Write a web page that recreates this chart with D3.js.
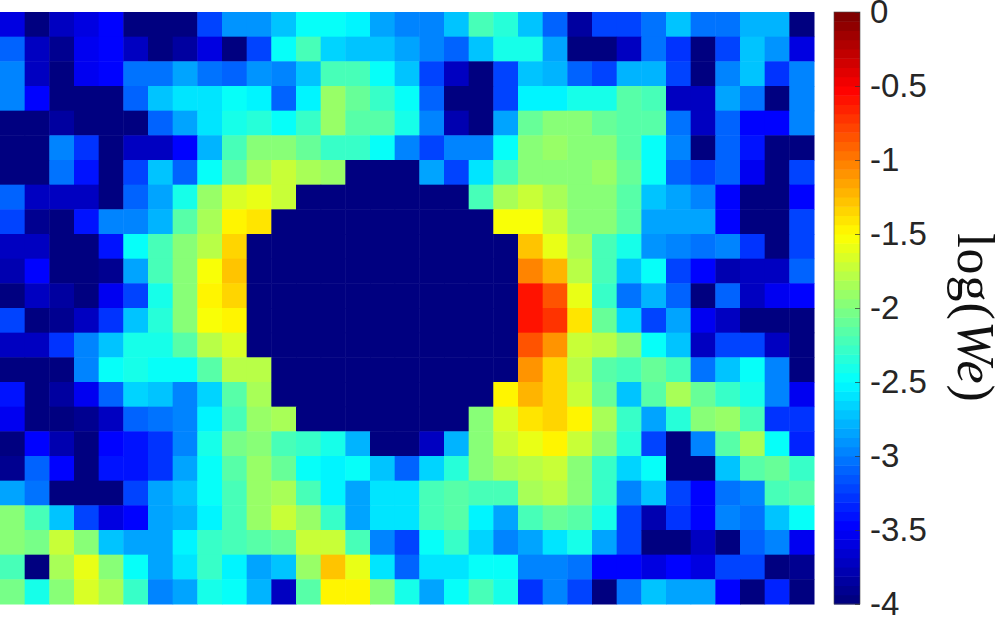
<!DOCTYPE html>
<html>
<head>
<meta charset="utf-8">
<script src="https://cdn.jsdelivr.net/npm/d3@7"></script>
<style>
  html, body { margin: 0; padding: 0; background: #fff; }
  svg { display: block; }
</style>
</head>
<body>
<div id="chart"></div>
<script>
"use strict";
// log(We) per cell, top row first
const logWe = [
  [-3.6,-3.95,-3.7,-3.6,-3.45,-4,-4,-4,-3.25,-2.9,-2.9,-2.7,-2.45,-2.45,-2.55,-2.85,-3,-3,-2.75,-2.25,-2.35,-2.72,-3.1,-3.85,-3.25,-3.25,-3.05,-2.75,-3.05,-3.05,-2.8,-2.8,-4],
  [-3.1,-3.7,-3.9,-3.55,-3.5,-3.7,-4,-3.85,-3.6,-3.95,-3.25,-2.5,-2.25,-2.65,-2.7,-2.7,-2.85,-3,-3.1,-2.75,-2.38,-2.38,-2.85,-4,-4,-3.7,-3.05,-3.3,-4,-3.2,-2.7,-2.9,-3.6],
  [-2.95,-3.7,-4,-3.55,-3.5,-3.05,-3.05,-2.85,-3.05,-3.1,-2.9,-3,-2.7,-2.25,-2.25,-2.5,-2.7,-3.2,-3.75,-3.95,-3.2,-2.75,-2.8,-3.1,-3.25,-2.78,-2.78,-3.25,-3.95,-2.95,-2.75,-3.3,-3],
  [-2.95,-3.5,-4,-4,-4,-3.1,-2.72,-2.6,-2.6,-2.5,-2.55,-3.1,-2.55,-1.93,-2.08,-2.3,-2.5,-3.1,-4,-4,-3.25,-2.55,-2.55,-2.38,-2.38,-2.18,-2.25,-3.7,-3.75,-2.85,-3.05,-4,-3],
  [-4,-4,-3.85,-4,-4,-4,-3.1,-2.85,-2.6,-2.38,-2.35,-2.48,-2.3,-1.93,-2.18,-2.13,-2.42,-2.95,-3.8,-4,-2.85,-2.08,-2,-2,-2.08,-2.18,-2.18,-3.05,-3.7,-3.1,-3.45,-3.45,-3],
  [-4,-4,-3,-3.3,-4,-3.75,-3.7,-3.5,-2.8,-2.25,-2,-2,-2.08,-2.28,-2.3,-2.45,-3,-3.2,-2.95,-3,-2.5,-2,-1.93,-2,-2,-2.18,-2.5,-2.95,-4,-3.1,-3.4,-4,-4],
  [-4,-4,-3.05,-3.4,-4,-3.2,-2.75,-3.1,-2.5,-2.08,-1.87,-1.72,-1.83,-1.93,-4,-4,-4,-2.85,-3.2,-2.6,-2.25,-1.95,-1.95,-2,-1.93,-2.08,-2.48,-3.1,-3.25,-3.1,-3.55,-4,-3.2],
  [-3.1,-3.75,-3.7,-3.7,-4,-3.1,-2.85,-2.42,-1.9,-1.65,-1.6,-1.75,-4,-4,-4,-4,-4,-4,-4,-2.2,-1.87,-1.75,-1.87,-1.95,-1.95,-2.15,-2.75,-2.85,-2.95,-3.5,-4,-4,-3.5],
  [-3.25,-3.9,-4,-3.4,-3,-2.95,-2.78,-2.15,-1.83,-1.5,-1.38,-4,-4,-4,-4,-4,-4,-4,-4,-4,-1.55,-1.55,-1.72,-1.95,-2,-2.15,-2.85,-2.85,-2.85,-3.45,-4,-4,-3.2],
  [-3.7,-3.75,-4,-4,-3.4,-2.5,-2.25,-2,-1.78,-1.35,-4,-4,-4,-4,-4,-4,-4,-4,-4,-4,-4,-1.3,-1.62,-1.87,-2.25,-2.38,-2.9,-2.95,-3.05,-2.95,-3.3,-4,-3.25],
  [-3.8,-3.5,-4,-4,-3.9,-2.85,-2.25,-2,-1.52,-1.28,-4,-4,-4,-4,-4,-4,-4,-4,-4,-4,-4,-1.05,-1.25,-1.8,-2.25,-2.72,-2.5,-3.2,-3.5,-3.8,-3.7,-3.7,-3.1],
  [-4,-3.75,-3.85,-4,-3.55,-3.2,-2.38,-2,-1.5,-1.35,-4,-4,-4,-4,-4,-4,-4,-4,-4,-4,-4,-0.62,-0.82,-1.6,-2.3,-3.05,-2.8,-3.1,-4,-3.1,-3.75,-3.55,-3.5],
  [-3.25,-3.95,-3.9,-3.75,-3.3,-2.72,-2.35,-2,-1.55,-1.5,-4,-4,-4,-4,-4,-4,-4,-4,-4,-4,-4,-0.6,-0.75,-1.4,-2.08,-2.68,-3.25,-2.85,-3.55,-3.7,-4,-4,-4],
  [-3.75,-3.7,-3.3,-3,-2.72,-2.42,-2.42,-2.15,-1.8,-1.65,-4,-4,-4,-4,-4,-4,-4,-4,-4,-4,-4,-0.85,-1.1,-1.75,-1.8,-2,-2.5,-2.75,-3.7,-3.25,-3.2,-3.75,-4],
  [-4,-4,-4,-3,-2.48,-2.38,-2.45,-2.5,-2.15,-1.78,-1.78,-4,-4,-4,-4,-4,-4,-4,-4,-4,-4,-1.07,-1.35,-1.8,-2.15,-2.2,-2.08,-2.2,-3.05,-2.75,-2.5,-3,-4],
  [-3.4,-4,-3.85,-3.55,-3.1,-2.65,-2.72,-2.95,-2.68,-2.15,-1.83,-4,-4,-4,-4,-4,-4,-4,-4,-4,-1.5,-1.22,-1.35,-1.7,-2.08,-2.75,-2.15,-1.87,-2.08,-2.3,-2.42,-3,-3.55],
  [-3.55,-4,-4,-3.9,-3.7,-3.1,-3.05,-3,-2.55,-2.2,-1.93,-1.83,-4,-4,-4,-4,-4,-4,-4,-2,-1.68,-1.4,-1.35,-1.5,-1.87,-2.3,-2.85,-2.35,-2,-1.93,-2.25,-3.3,-3.3],
  [-4,-3.45,-3.8,-4,-3.5,-3.4,-3.3,-2.95,-2.42,-2.02,-2,-2.2,-2.3,-2.38,-2.8,-4,-4,-3.7,-2.8,-2,-1.75,-1.62,-1.5,-1.72,-1.95,-2.35,-3.2,-3.95,-2.95,-2.15,-1.87,-2.5,-3.35],
  [-3.9,-3.1,-3.5,-4,-3.4,-3.4,-3.3,-2.85,-2.48,-2.15,-1.93,-2.08,-2.45,-2.55,-2.45,-2.7,-3.1,-2.65,-2.35,-2,-1.87,-1.78,-1.72,-1.95,-2.3,-2.68,-2.5,-4,-4,-2.75,-2.15,-2.08,-2.28],
  [-2.85,-3.05,-4,-4,-4,-3.25,-2.85,-2.7,-2.5,-2.25,-1.93,-1.83,-2.2,-2.55,-2.85,-2.6,-2.58,-2.25,-2.15,-2.2,-2.2,-1.87,-1.78,-2,-2.3,-2.95,-2.75,-3.2,-3.5,-3.05,-3,-2.25,-2.15],
  [-2,-2.2,-2.72,-3.25,-3.6,-3.45,-2.85,-2.78,-2.52,-2.2,-1.93,-1.75,-1.93,-2.3,-2.85,-2.6,-2.58,-2.2,-2.15,-2.55,-2.85,-2.25,-2.08,-2.15,-2.38,-3.2,-3.8,-3.3,-3.5,-2.95,-3.05,-2.75,-2.5],
  [-2,-2.02,-1.75,-2,-2.72,-2.85,-2.85,-2.52,-2.3,-2.2,-2.13,-2.08,-1.75,-1.75,-2.25,-3,-3.25,-2.5,-2.3,-2.65,-3,-2.85,-2.6,-2.42,-2.85,-3.25,-4,-4,-3.75,-4,-3.1,-3,-3.55],
  [-2.2,-4,-1.83,-1.6,-2,-2.5,-2.85,-2.6,-2.3,-2.52,-2.85,-2.7,-1.93,-1.3,-1.6,-2.6,-3.1,-2.6,-2.6,-2.45,-2.5,-2.95,-3,-3.05,-3.5,-3.5,-3.6,-3.45,-3.6,-3.25,-3.2,-4,-3.9],
  [-2.02,-2.38,-1.95,-1.65,-1.87,-2.3,-2.95,-2.85,-2.38,-2.48,-2.8,-3.7,-2.15,-1.5,-1.5,-2,-2.42,-2.85,-2.5,-2.2,-2.42,-3.3,-2.95,-3.2,-4,-3.05,-2.75,-2.85,-2.85,-3.5,-3.95,-3.35,-3.95]
];
const colorTicks = [0, -0.5, -1, -1.5, -2, -2.5, -3, -3.5, -4];
const jetStops = ["#000080", "#0000ff", "#00ffff", "#ffff00", "#ff0000", "#800000"];
const jetValues = [-4, -3.5, -2.5, -1.5, -0.5, 0];
const levels = 64;

let width = 1000;
let height = 617;
let plot = { left: 0, right: 814, top: 12, bottom: 604 };
let bar = { left: 834, right: 860 };

let svg = d3.select("#chart").append("svg")
  .attr("width", width)
  .attr("height", height);

// jet, cut into 64 flat steps like the matlab colormap
const jet = d3.scaleLinear().domain(jetValues).range(jetStops).interpolate(d3.interpolateRgb);
const levelColors = d3.range(levels).map(i => jet(-4 + 4 * i / (levels - 1)));
const color = d3.scaleQuantize().domain([-4, 0]).range(levelColors);

const x = d3.scaleBand().domain(d3.range(logWe[0].length)).range([plot.left, plot.right]);
const y = d3.scaleBand().domain(d3.range(logWe.length)).range([plot.top, plot.bottom]);

svg.append("g")
  .selectAll("g")
  .data(logWe)
  .enter().append("g")
  .selectAll("rect")
  .data((row, r) => row.map((v, c) => ({ r, c, v })))
  .enter().append("rect")
  .attr("x", d => x(d.c))
  .attr("y", d => y(d.r))
  .attr("width", x.bandwidth() + 0.5)
  .attr("height", y.bandwidth() + 0.5)
  .attr("fill", d => color(d.v));

// colorbar
const barScale = d3.scaleLinear().domain([-4, 0]).range([plot.bottom, plot.top]);

svg.append("g")
  .selectAll("rect")
  .data(levelColors)
  .enter().append("rect")
  .attr("x", bar.left)
  .attr("y", (d, i) => barScale(-4 + 4 * (i + 1) / levels))
  .attr("width", bar.right - bar.left)
  .attr("height", (plot.bottom - plot.top) / levels + 0.5)
  .attr("fill", d => d);

svg.append("rect")
  .attr("x", bar.left)
  .attr("y", plot.top)
  .attr("width", bar.right - bar.left)
  .attr("height", plot.bottom - plot.top)
  .attr("fill", "none")
  .attr("stroke", "#4a4a4a")
  .attr("stroke-width", 0.6);

const barAxis = d3.axisRight(barScale)
  .tickValues(colorTicks)
  .tickFormat(d => d)
  .tickSizeInner(-5)
  .tickSizeOuter(0)
  .tickPadding(10);

let axisG = svg.append("g")
  .attr("transform", `translate(${bar.right},0)`)
  .call(barAxis);
axisG.select(".domain").remove();
axisG.selectAll("line").attr("stroke", "#333").attr("stroke-width", 0.7);
axisG.selectAll("text")
  .attr("fill", "#262626")
  .style("font-family", "'Liberation Sans', Arial, sans-serif")
  .style("font-size", "33px");

// axis title, rotated like the matlab colorbar label
let title = svg.append("text")
  .attr("transform", "translate(958,318) rotate(90)")
  .attr("text-anchor", "middle")
  .attr("fill", "#111")
  .style("font-family", "'Liberation Serif', 'Times New Roman', serif")
  .style("font-size", "52px")
  .style("letter-spacing", "1px");
title.append("tspan").text("log");
title.append("tspan").text("(");
title.append("tspan").attr("font-style", "italic").text("W");
title.append("tspan").attr("font-style", "italic").text("e");
title.append("tspan").text(")");
</script>
</body>
</html>
